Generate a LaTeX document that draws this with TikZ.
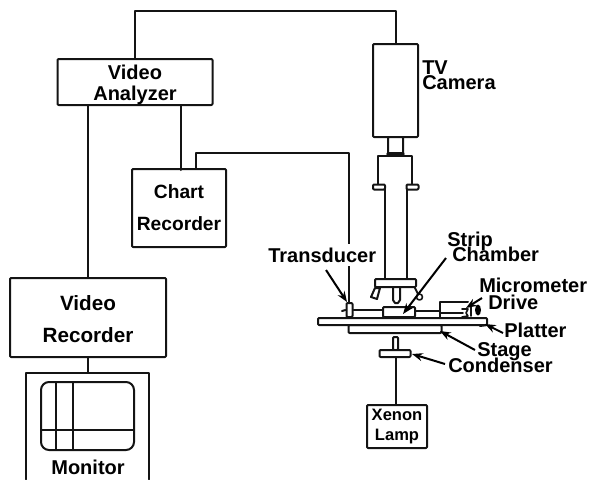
\documentclass[tikz,border=0pt]{standalone}
\usepackage{fontspec}
\setmainfont{Liberation Sans}
\usetikzlibrary{arrows.meta,shapes.geometric}
\newcommand{\lab}[2]{\fontsize{#1}{#2}\selectfont\bfseries\lineskiplimit=-100pt\relax}
\tikzset{
  ink/.style={line width=1.5pt,line join=round,line cap=round,black!92},
  boxnode/.style={ink,draw,rounded corners=0.8pt,inner sep=0pt,align=center,text=black},
  labelnode/.style={anchor=base west,inner sep=0pt,text=black,font=\lab{15}{18}},
  stacklabel/.style={anchor=south west,inner sep=0pt,text=black,align=left,font=\lab{15}{#1}},
  pointer/.style={line width=1.5pt,black,-{Stealth[length=8pt,width=6pt]}},
  part/.style={ink,draw,rounded corners=0.8pt,fill=white}
}
\begin{document}
\begin{tikzpicture}[x=0.75pt,y=-0.75pt]
\useasboundingbox (0,0) rectangle (589,479);
% main boxes
\node[boxnode,minimum width=155*0.75pt,minimum height=46*0.75pt,font=\lab{15}{15.8}] (analyzer) at (135,82) {\rule{0pt}{15.5pt}Video\\Analyzer};
\node[boxnode,minimum width=94*0.75pt,minimum height=78*0.75pt,font=\lab{14.4}{24}] (chart) at (179,208) {Chart\\Recorder};
\node[boxnode,minimum width=156*0.75pt,minimum height=79*0.75pt,font=\lab{15.5}{24}] (vrec) at (88,317.5) {\rule{0pt}{14pt}Video\\Recorder};
\node[inner sep=0pt,minimum width=123*0.75pt,minimum height=106*0.75pt] (monitor) at (87.5,426) {};
\draw[ink] (monitor.south west) -- (monitor.north west) -- (monitor.north east) -- (monitor.south east);
\node[boxnode,minimum width=45*0.75pt,minimum height=93*0.75pt] (camera) at (395.5,90.5) {};
\node[boxnode,minimum width=60*0.75pt,minimum height=43*0.75pt,font=\lab{12.4}{15.6}] (lamp) at (397,426.5) {Xenon\\Lamp};
% monitor screen
\node[boxnode,rounded corners=6pt,minimum width=93*0.75pt,minimum height=68*0.75pt] (screen) at (87.5,416) {};
\coordinate (m1) at (56,382); \coordinate (m2) at (56,450);
\coordinate (m3) at (73,382); \coordinate (m4) at (73,450);
\coordinate (m5) at (41,430); \coordinate (m6) at (134,430);
\draw[ink,line width=1.2pt] (m1) -- (m2) (m3) -- (m4) (m5) -- (m6);
\node[labelnode,anchor=base] (monitorlabel) at (88,474) {Monitor};
% microscope
\coordinate (topleft) at (135,11);
\coordinate (topright) at (395.5,11);
\coordinate (chartturn) at (196,153);
\coordinate (transturn) at (349,153);
\node[part,minimum width=15*0.75pt,minimum height=17*0.75pt,inner sep=0pt] (lens) at (395.5,145.5) {};
\draw[ink,line width=2.4pt] (388,154) -- (403,154);
\draw[ink] (378,185) -- (378,156) -- (412,156) -- (412,185);
\draw[ink] (385,187) -- (385,279) (406.5,187) -- (406.5,279);
\node[part,minimum width=12*0.75pt,minimum height=5*0.75pt,inner sep=0pt] (flangeL) at (379,187) {};
\node[part,minimum width=12*0.75pt,minimum height=5*0.75pt,inner sep=0pt] (flangeR) at (412.5,187) {};
\node[part,minimum width=41*0.75pt,minimum height=8*0.75pt,inner sep=0pt] (head) at (395.5,283) {};
\draw[ink,fill=white] (375,288) -- (380,288) -- (377,299) -- (371,297) -- cycle;
\draw[ink] (393,288) -- (393,300) -- (395,303) -- (398,303) -- (400,300) -- (400,288);
\draw[ink] (415,288) -- (418,294);
\draw[ink,line width=1.2pt] (419.5,297) circle (3);
% stage assembly
\node[part,minimum width=93*0.75pt,minimum height=8*0.75pt,inner sep=0pt] (stage) at (395,329) {};
\node[part,minimum width=169*0.75pt,minimum height=7*0.75pt,inner sep=0pt] (platter) at (402.5,321.5) {};
\draw[ink] (487,325) -- (480,326);
\node[part,minimum width=32*0.75pt,minimum height=10*0.75pt,inner sep=0pt] (chamber) at (399,312) {};
\node[part,minimum width=6*0.75pt,minimum height=14*0.75pt,inner sep=0pt] (transducer) at (349.5,310) {};
\draw[ink] (342,311) -- (transducer.west);
\draw[ink] (transducer.east) -- (chamber.west |- 0,310);
\draw[ink] (chamber.east |- 0,311) -- (440,311);
\draw[ink] (440,318) -- (440,302) -- (468,302);
\draw[ink,line width=1.2pt] (440,313) -- (463,313);
\draw[ink,line width=1.2pt] (462,309) -- (468,309) -- (466,313) -- (468,316) -- (462,317);
\draw[ink,line width=1.2pt] (471,306) -- (471,316);
\node[fill=black,ellipse,inner sep=0pt,minimum width=6*0.75pt,minimum height=11*0.75pt] (knob) at (478,310) {};
\node[part,minimum width=5*0.75pt,minimum height=13*0.75pt,inner sep=0pt] (stem) at (395.5,343.5) {};
\node[part,minimum width=31*0.75pt,minimum height=7*0.75pt,inner sep=0pt] (condenser) at (395,353.5) {};
% connectors
\draw[ink] (analyzer.north -| topleft) -- (topleft) -- (topright) -- (camera.north);
\draw[ink] (analyzer.south -| vrec.north) -- (vrec.north);
\draw[ink] (analyzer.south -| chart.north) ++(2,0) -- ++(0,{169-105});
\draw[ink] (chart.north -| chartturn) -- (chartturn) -- (transturn) -- (transducer.north -| transturn);
\draw[ink] (vrec.south) -- (monitor.north -| vrec.south);
\draw[ink] (condenser.south -| stem) -- (lamp.north -| stem);
% labels
\node[labelnode,fill=white,inner ysep=3pt,inner xsep=0pt] (ltrans) at (268,262) {Transducer};
\node[stacklabel=11.25pt] (lcam) at (422,90) {TV\\Camera};
\node[stacklabel=11.25pt] (lchamber) at (447,262) {Strip\\\hspace*{3.75pt}Chamber};
\node[stacklabel=12.75pt] (lmicro) at (479,310) {Micrometer\\\hspace*{6.75pt}Drive};
\node[labelnode] (lplatter) at (504,337) {Platter};
\node[stacklabel=12pt] (lstage) at (448,373) {\hspace*{21.75pt}Stage\\Condenser};
% pointers
\coordinate (ptrans) at (326,270); \coordinate (ttrans) at (347,302);
\coordinate (pstrip) at (446,258); \coordinate (tstrip) at (403,314);
\coordinate (pmicro) at (482,298); \coordinate (tmicro) at (466,308);
\coordinate (pplat) at (503,333); \coordinate (tplat) at (485,324);
\coordinate (pstage) at (475,350); \coordinate (tstage) at (440,331);
\coordinate (pcond) at (445,364); \coordinate (tcond) at (412,354);
\draw[pointer] (ptrans) -- (ttrans);
\draw[pointer] (pstrip) -- (tstrip);
\draw[pointer] (pmicro) -- (tmicro);
\draw[pointer] (pplat) -- (tplat);
\draw[pointer] (pstage) -- (tstage);
\draw[pointer] (pcond) -- (tcond);
\end{tikzpicture}
\end{document}
